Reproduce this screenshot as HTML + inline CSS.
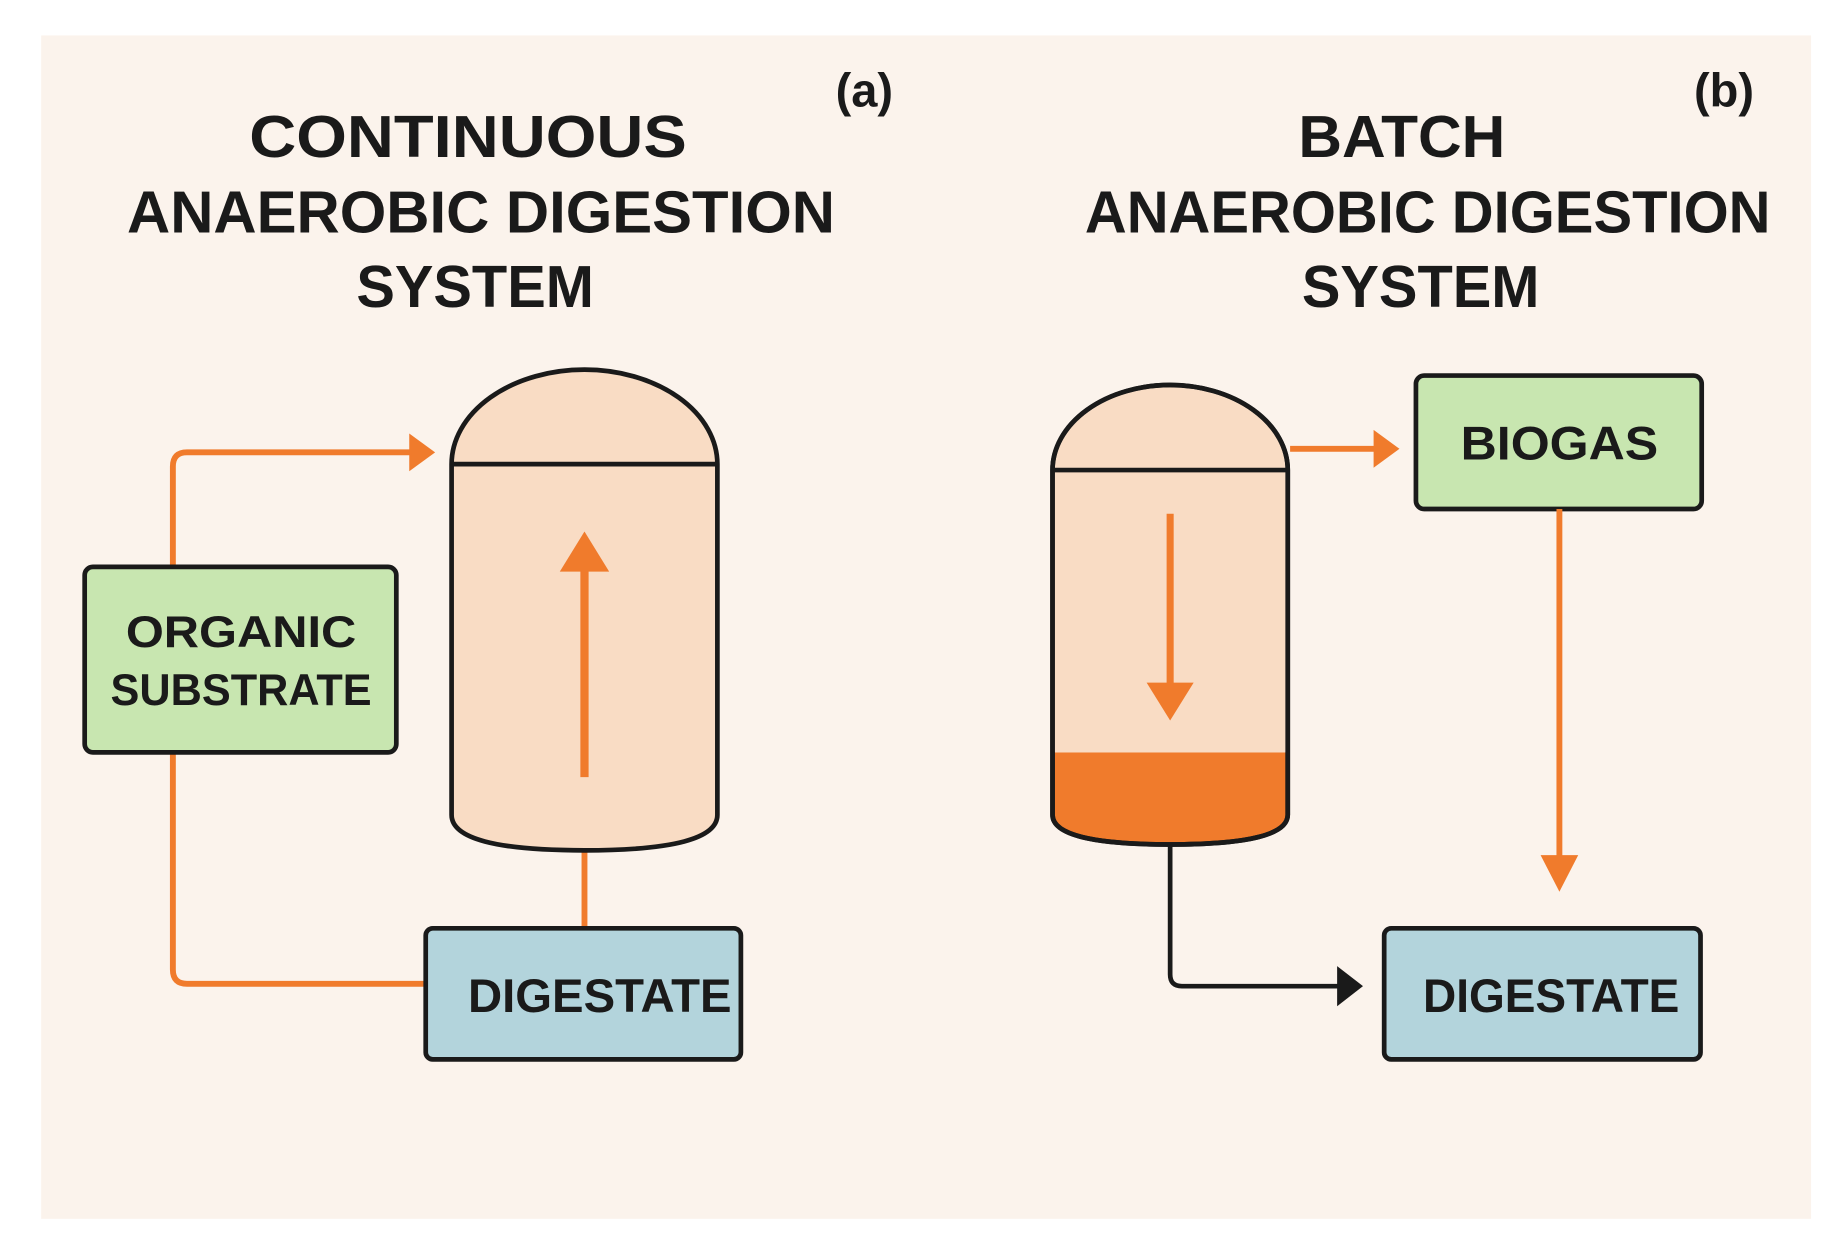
<!DOCTYPE html>
<html><head><meta charset="utf-8"><style>
html,body{margin:0;padding:0;background:#fff;}
svg{display:block;}
text{font-family:"Liberation Sans",sans-serif;font-weight:bold;fill:#1a1a1a;}
</style></head><body>
<svg width="1844" height="1259" viewBox="0 0 1568 1066" preserveAspectRatio="none" xmlns="http://www.w3.org/2000/svg">
<rect x="0" y="0" width="1568" height="1066" fill="#ffffff"/>
<rect x="35" y="30" width="1505" height="1002" fill="#fbf3ec"/>

<text x="735" y="90" font-size="40" text-anchor="middle">(a)</text>
<text x="1466" y="90" font-size="40" text-anchor="middle">(b)</text>

<text x="398" y="133" font-size="50" text-anchor="middle" textLength="372" lengthAdjust="spacingAndGlyphs">CONTINUOUS</text>
<text x="409" y="197" font-size="50" text-anchor="middle" textLength="602" lengthAdjust="spacingAndGlyphs">ANAEROBIC DIGESTION</text>
<text x="404" y="260" font-size="50" text-anchor="middle" textLength="202" lengthAdjust="spacingAndGlyphs">SYSTEM</text>

<text x="1192" y="133" font-size="50" text-anchor="middle" textLength="176" lengthAdjust="spacingAndGlyphs">BATCH</text>
<text x="1214" y="197" font-size="50" text-anchor="middle" textLength="583" lengthAdjust="spacingAndGlyphs">ANAEROBIC DIGESTION</text>
<text x="1208" y="260" font-size="50" text-anchor="middle" textLength="202" lengthAdjust="spacingAndGlyphs">SYSTEM</text>

<!-- left connectors -->
<path d="M147 480 V395 Q147 383 159 383 H352" fill="none" stroke="#f07b2c" stroke-width="5"/>
<polygon points="348,367 370,383 348,399" fill="#f07b2c"/>
<path d="M147 637 V821 Q147 833 159 833 H362" fill="none" stroke="#f07b2c" stroke-width="5"/>
<line x1="497" y1="718" x2="497" y2="786" stroke="#f07b2c" stroke-width="5"/>

<!-- left vessel -->
<path d="M384 393 A113 80 0 0 1 610 393 V690 Q610 720 497 720 Q384 720 384 690 Z" fill="#f9dcc4" stroke="#1a1a1a" stroke-width="4"/>
<line x1="384" y1="393" x2="610" y2="393" stroke="#1a1a1a" stroke-width="4"/>
<line x1="497" y1="658" x2="497" y2="478" stroke="#f07b2c" stroke-width="7"/>
<polygon points="476,484 497,450 518,484" fill="#f07b2c"/>

<rect x="72" y="480" width="265" height="157" rx="7" fill="#c8e6b0" stroke="#1a1a1a" stroke-width="4"/>
<text x="205" y="548" font-size="38" text-anchor="middle" textLength="196" lengthAdjust="spacingAndGlyphs">ORGANIC</text>
<text x="205" y="597" font-size="38" text-anchor="middle" textLength="222" lengthAdjust="spacingAndGlyphs">SUBSTRATE</text>

<rect x="362" y="786" width="268" height="111" rx="6" fill="#b3d4dc" stroke="#1a1a1a" stroke-width="4"/>
<text x="510" y="857" font-size="40" text-anchor="middle" textLength="224" lengthAdjust="spacingAndGlyphs">DIGESTATE</text>

<!-- right vessel -->
<path d="M895 637 H1095 V690 Q1095 715 995 715 Q895 715 895 690 Z" fill="#f07b2c"/>
<path d="M895 398 A100 72 0 0 1 1095 398 V690 Q1095 715 995 715 Q895 715 895 690 Z" fill="none" stroke="#1a1a1a" stroke-width="4"/>
<path d="M897 398 A98 70 0 0 1 1093 398 V637 H897 Z" fill="#f9dcc4"/>
<path d="M895 398 A100 72 0 0 1 1095 398 V690 Q1095 715 995 715 Q895 715 895 690 Z" fill="none" stroke="#1a1a1a" stroke-width="4"/>
<line x1="895" y1="398" x2="1095" y2="398" stroke="#1a1a1a" stroke-width="4"/>
<line x1="995" y1="435" x2="995" y2="585" stroke="#f07b2c" stroke-width="6"/>
<polygon points="975,578 995,610 1015,578" fill="#f07b2c"/>

<line x1="1097" y1="380" x2="1172" y2="380" stroke="#f07b2c" stroke-width="5"/>
<polygon points="1168,364 1190,380 1168,396" fill="#f07b2c"/>

<rect x="1204" y="318" width="243" height="113" rx="7" fill="#c8e6b0" stroke="#1a1a1a" stroke-width="4"/>
<text x="1326" y="389" font-size="40" text-anchor="middle" textLength="168" lengthAdjust="spacingAndGlyphs">BIOGAS</text>

<line x1="1326" y1="431" x2="1326" y2="728" stroke="#f07b2c" stroke-width="5"/>
<polygon points="1310,724 1326,755 1342,724" fill="#f07b2c"/>

<path d="M995 715 V825 Q995 835 1005 835 H1140" fill="none" stroke="#1a1a1a" stroke-width="4"/>
<polygon points="1137,818 1159,835 1137,852" fill="#1a1a1a"/>

<rect x="1177" y="786" width="269" height="111" rx="6" fill="#b3d4dc" stroke="#1a1a1a" stroke-width="4"/>
<text x="1319" y="857" font-size="40" text-anchor="middle" textLength="218" lengthAdjust="spacingAndGlyphs">DIGESTATE</text>
</svg>
</body></html>
